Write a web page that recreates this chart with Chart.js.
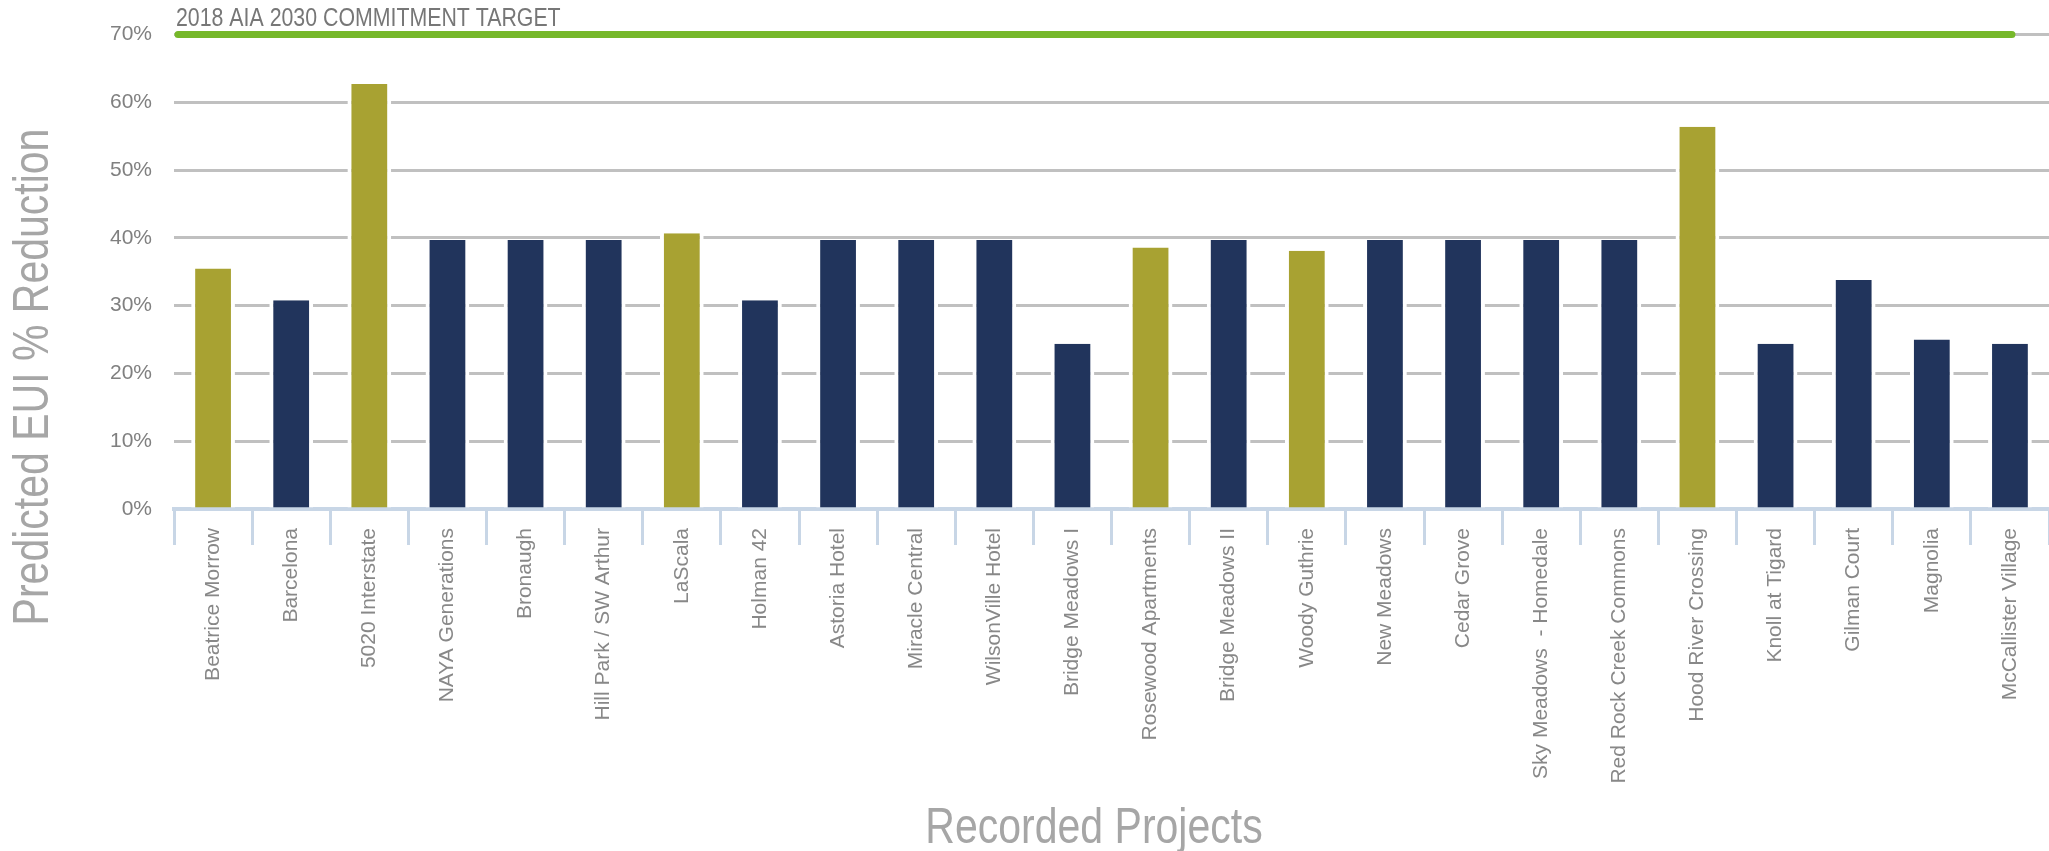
<!DOCTYPE html>
<html>
<head>
<meta charset="utf-8">
<script src="https://cdn.jsdelivr.net/npm/chart.js@4.4.1/dist/chart.umd.min.js"></script>
<style>
  html, body { margin: 0; padding: 0; background: #fff; }
  #wrap { width: 2049px; height: 851px; }
</style>
</head>
<body>
<div id="wrap"><canvas id="chart" width="2049" height="851"></canvas></div>
<script>
// project names along the x axis
const projects = [
  'Beatrice Morrow', 'Barcelona', '5020 Interstate', 'NAYA Generations', 'Bronaugh',
  'Hill Park / SW Arthur', 'LaScala', 'Holman 42', 'Astoria Hotel', 'Miracle Central',
  'WilsonVille Hotel', 'Bridge Meadows I', 'Rosewood Apartments', 'Bridge Meadows II',
  'Woody Guthrie', 'New Meadows', 'Cedar Grove', 'Sky Meadows  - Homedale',
  'Red Rock Creek Commons', 'Hood River Crossing', 'Knoll at Tigard', 'Gilman Court',
  'Magnolia', 'McCallister Village'
];

// predicted EUI reduction, percent
const reduction = [
  35.5, 30.8, 62.7, 39.7, 39.7,
  39.7, 40.7, 30.8, 39.7, 39.7,
  39.7, 24.4, 38.6, 39.7,
  38.1, 39.7, 39.7, 39.7,
  39.7, 56.4, 24.4, 33.8,
  25.0, 24.4
];

// projects drawn in olive instead of navy
const highlighted = [
  true, false, true, false, false,
  false, true, false, false, false,
  false, false, true, false,
  true, false, false, false,
  false, true, false, false,
  false, false
];

const yTicks = [0, 10, 20, 30, 40, 50, 60, 70];
const target = 70;
const targetLabel = '2018 AIA 2030 COMMITMENT TARGET';
const xTitle = 'Recorded Projects';
const yTitle = 'Predicted EUI % Reduction';

const FONT = "'Liberation Sans', Arial, sans-serif";

// no narrow face installed, so squeeze the regular one sideways
function narrowText(ctx, text, x, y, size, color, align, angle) {
  ctx.save();
  ctx.translate(x, y);
  ctx.rotate(angle || 0);
  ctx.scale(0.82, 1);
  ctx.fillStyle = color;
  ctx.font = size + 'px ' + FONT;
  ctx.textAlign = align;
  ctx.textBaseline = 'alphabetic';
  ctx.fillText(text, 0, 0);
  ctx.restore();
}

// green target line with its caption, and both axis titles
const extras = {
  id: 'extras',
  afterDatasetsDraw(chart) {
    const {ctx, scales: {x, y}} = chart;
    const ty = y.getPixelForValue(target);
    ctx.save();
    ctx.strokeStyle = '#76b82a';
    ctx.lineWidth = 7;
    ctx.lineCap = 'round';
    ctx.beginPath();
    ctx.moveTo(x.left + 4, ty);
    ctx.lineTo(x.getPixelForValue(projects.length - 1) + 2, ty);
    ctx.stroke();
    ctx.restore();

    narrowText(ctx, targetLabel, x.left + 2, ty - 9, 26, '#777', 'left');
    narrowText(ctx, yTitle, 48, 377, 50, '#a6a6a6', 'center', -Math.PI / 2);
    narrowText(ctx, xTitle, 1094, 843, 50, '#a6a6a6', 'center');
  }
};

new Chart(document.getElementById('chart'), {
  type: 'bar',
  data: {
    labels: projects,
    datasets: [{
      data: reduction,
      backgroundColor: highlighted.map(h => h ? '#a8a232' : '#21345c'),
      borderColor: '#ffffff',
      borderWidth: {left: 4, right: 4, top: 0, bottom: 0},
      borderSkipped: false,
      barPercentage: 0.56,
      categoryPercentage: 1.0
    }]
  },
  options: {
    responsive: false,
    animation: false,
    layout: {padding: {top: 33, right: 0, left: 0, bottom: 0}},
    plugins: {
      legend: {display: false},
      tooltip: {enabled: false}
    },
    scales: {
      x: {
        afterFit: s => { s.height = 342; },
        grid: {
          offset: true,
          drawOnChartArea: false,
          tickLength: 36,
          color: '#c8d6e6',
          lineWidth: 3
        },
        border: {display: true, color: '#c8d6e6', width: 4},
        ticks: {
          autoSkip: false,
          minRotation: 90,
          maxRotation: 90,
          padding: -17,
          color: '#888',
          font: {family: FONT, size: 21}
        }
      },
      y: {
        min: 0,
        max: 70,
        afterFit: s => { s.width = 174; },
        afterBuildTicks: s => { s.ticks = yTicks.map(v => ({value: v})); },
        grid: {color: '#c0c0c0', lineWidth: 3, drawTicks: false},
        border: {display: false},
        ticks: {
          padding: 22,
          color: '#808080',
          font: {family: FONT, size: 21},
          callback: v => v + '%'
        }
      }
    }
  },
  plugins: [extras]
});
</script>
</body>
</html>
